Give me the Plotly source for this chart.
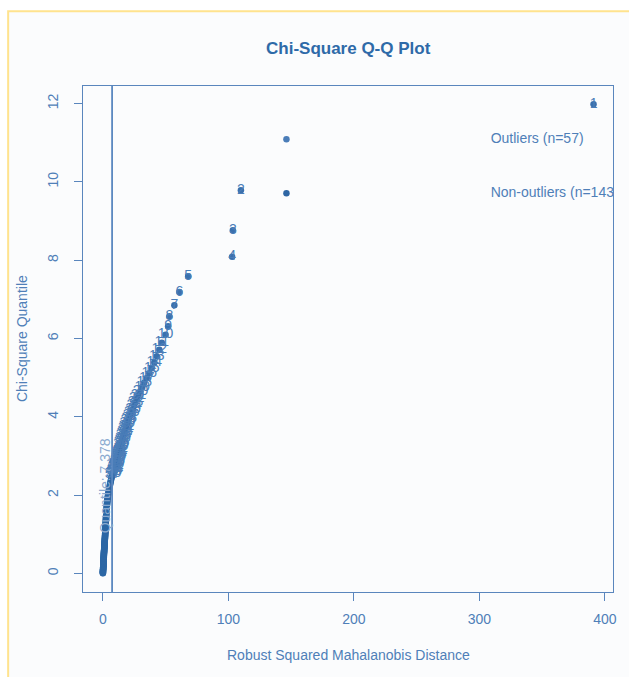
import plotly.graph_objects as go

# ---------------- data ----------------
# chi-square quantiles (df=2, n=200), sorted descending
chisq_quantile = [
    11.983, 9.786, 8.764, 8.091, 7.588, 7.187, 6.853, 6.567, 6.316, 6.094,
    5.894, 5.712, 5.545, 5.391, 5.248, 5.115, 4.990, 4.872, 4.761, 4.656,
    4.556, 4.460, 4.369, 4.283, 4.199, 4.119, 4.042, 3.968, 3.897, 3.828,
    3.761, 3.697, 3.634, 3.574, 3.515, 3.458, 3.402, 3.348, 3.295, 3.244,
    3.194, 3.145, 3.098, 3.051, 3.006, 2.961, 2.918, 2.875, 2.834, 2.793,
    2.753, 2.713, 2.675, 2.637, 2.600, 2.564, 2.528, 2.493, 2.459, 2.425,
    2.391, 2.359, 2.327, 2.295, 2.263, 2.232, 2.202, 2.172, 2.143, 2.114,
    2.086, 2.057, 2.030, 2.002, 1.975, 1.949, 1.922, 1.896, 1.871, 1.845,
    1.820, 1.796, 1.771, 1.747, 1.723, 1.700, 1.677, 1.654, 1.631, 1.608,
    1.586, 1.564, 1.542, 1.521, 1.499, 1.478, 1.458, 1.437, 1.417, 1.396,
    1.376, 1.357, 1.337, 1.318, 1.298, 1.279, 1.260, 1.242, 1.223, 1.205,
    1.187, 1.169, 1.151, 1.133, 1.115, 1.098, 1.081, 1.064, 1.047, 1.030,
    1.013, 0.997, 0.980, 0.964, 0.948, 0.932, 0.916, 0.900, 0.885, 0.869,
    0.854, 0.839, 0.823, 0.808, 0.793, 0.779, 0.764, 0.749, 0.735, 0.720,
    0.706, 0.692, 0.678, 0.664, 0.650, 0.636, 0.623, 0.609, 0.596, 0.582,
    0.569, 0.556, 0.543, 0.529, 0.516, 0.504, 0.491, 0.478, 0.465, 0.453,
    0.440, 0.428, 0.415, 0.403, 0.391, 0.379, 0.367, 0.355, 0.343, 0.331,
    0.319, 0.308, 0.296, 0.284, 0.273, 0.261, 0.250, 0.239, 0.227, 0.216,
    0.205, 0.194, 0.183, 0.172, 0.161, 0.150, 0.140, 0.129, 0.118, 0.108,
    0.097, 0.087, 0.077, 0.066, 0.056, 0.046, 0.035, 0.025, 0.015, 0.005,
]

# robust squared Mahalanobis distances of the 57 outliers (sorted descending)
outlier_dist = [
    391, 110, 103.6, 103, 68, 61, 57, 53, 52, 50,
    47, 45, 43, 41, 39, 37, 35, 33, 31.5, 30,
    28.5, 27, 26, 25, 24, 23, 22, 21, 20.2, 19.5,
    18.8, 18.2, 17.6, 17, 16.5, 16, 15.5, 15, 14.6, 14.2,
    13.8, 13.4, 13, 12.7, 12.4, 12.1, 11.8, 11.5, 11.2, 10.9,
    10.6, 10.3, 10, 9.6, 9.1, 8.5, 7.8,
]

# distances of the 143 non-outliers (sorted descending)
nonoutlier_dist = [
    7.2, 7.0, 6.8, 6.5, 6.3, 6.1, 5.9, 5.7, 5.5, 5.3, 5.1, 4.95, 4.8, 4.65, 4.5, 4.35, 4.2, 4.05,
    3.95, 3.85, 3.75, 3.65, 3.56, 3.48, 3.4, 3.33, 3.26, 3.2, 3.14, 3.08, 3.02, 2.97, 2.92, 2.87,
    2.82, 2.78, 2.74, 2.7, 2.66, 2.62, 2.58, 2.54, 2.5,
    2.47, 2.44, 2.41, 2.38, 2.35, 2.32, 2.29, 2.26, 2.23, 2.2, 2.17, 2.14, 2.11, 2.08, 2.05, 2.02,
    1.99, 1.96, 1.93, 1.9,
    1.87, 1.84, 1.81, 1.78, 1.75, 1.72, 1.69, 1.66, 1.63, 1.6, 1.57, 1.54, 1.51, 1.48, 1.45, 1.42,
    1.39, 1.36, 1.33, 1.3, 1.27, 1.24, 1.21, 1.18, 1.15, 1.12, 1.09, 1.06, 1.03, 1.0,
    0.98, 0.96, 0.94, 0.92, 0.9, 0.88, 0.86, 0.84, 0.82, 0.8, 0.78, 0.76, 0.74, 0.72, 0.7, 0.68,
    0.66, 0.64, 0.62, 0.6, 0.58, 0.56, 0.54, 0.52, 0.5, 0.48, 0.46, 0.44, 0.42, 0.4, 0.38, 0.36,
    0.34, 0.32, 0.3, 0.28, 0.26, 0.24, 0.22, 0.2, 0.18, 0.16, 0.14, 0.12, 0.1, 0.09, 0.08, 0.07,
    0.06, 0.05,
]

outlier_labels = [str(i + 1) for i in range(len(outlier_dist))]
cutoff = 7.378
legend_labels = ["Outliers (n=57)", "Non-outliers (n=143"]
legend_marker_x = [146.3, 146.3]
legend_text_x = [309, 309]
legend_y = [11.09, 9.71]

x_ticks = [0, 100, 200, 300, 400]
y_ticks = [0, 2, 4, 6, 8, 10, 12]

# ---------------- styling / layout ----------------
W, H = 629, 677
L, R, T, B = 83.3, 616.5, 85.7, 591.7
FONT = "Liberation Sans, Arial, sans-serif"
BLUE_TXT = "#4f7fb8"
BOX = "#5a86bd"


def pxx(p):
    return (p - L) / (R - L)


def pxy(p):
    return (B - p) / (B - T)


n_out = len(outlier_dist)
fig = go.Figure()

fig.add_trace(go.Scatter(
    x=nonoutlier_dist, y=chisq_quantile[n_out:], mode="markers",
    marker=dict(size=6.5, color="#2c67a5"),
    showlegend=False, hoverinfo="skip",
))
fig.add_trace(go.Scatter(
    x=outlier_dist, y=chisq_quantile[:n_out], mode="markers+text",
    text=outlier_labels, textposition="middle center",
    textfont=dict(family=FONT, size=14, color="#4a7db8"),
    marker=dict(size=6.5, color="#3a70ad"),
    showlegend=False, hoverinfo="skip",
))
# legend (as drawn in the reference, clipped at the plot edge)
fig.add_trace(go.Scatter(
    x=legend_marker_x, y=legend_y, mode="markers",
    marker=dict(size=6.5, color=["#4a7db8", "#2e66a4"]),
    showlegend=False, hoverinfo="skip",
))
fig.add_trace(go.Scatter(
    x=legend_text_x, y=legend_y, mode="text", text=legend_labels,
    textposition="middle right", cliponaxis=True,
    textfont=dict(family=FONT, size=14, color=BLUE_TXT),
    showlegend=False, hoverinfo="skip",
))

shapes = [
    # pale yellow page frame
    dict(type="rect", xref="paper", yref="paper",
         x0=pxx(8), x1=pxx(660), y0=pxy(720), y1=pxy(11),
         line=dict(color="#ffe38e", width=2), fillcolor="#fbfcfd", layer="below"),
    # cutoff line
    dict(type="line", xref="x", yref="paper", x0=cutoff, x1=cutoff, y0=0, y1=1,
         line=dict(color="#5b88c0", width=1.8)),
]

annotations = [
    dict(text="<b>Chi-Square Q-Q Plot</b>", xref="paper", yref="paper",
         x=0.5, y=pxy(48), xanchor="center", yanchor="middle", showarrow=False,
         font=dict(family=FONT, size=17, color="#2e6aa8")),
    dict(text="Robust Squared Mahalanobis Distance", xref="paper", yref="paper",
         x=0.5, y=pxy(655), xanchor="center", yanchor="middle", showarrow=False,
         font=dict(family=FONT, size=14, color=BLUE_TXT)),
    dict(text="Chi-Square Quantile", xref="paper", yref="paper",
         x=pxx(22), y=0.5, xanchor="center", yanchor="middle", showarrow=False,
         textangle=-90, font=dict(family=FONT, size=14, color=BLUE_TXT)),
    dict(text="Quantile: 7.378", xref="x", yref="y",
         x=1.7, y=2.25, xanchor="center", yanchor="middle", showarrow=False,
         textangle=-90, font=dict(family=FONT, size=14, color="#8aa9cf")),
]

fig.update_layout(
    width=W, height=H,
    margin=dict(l=L, r=W - R, t=T, b=H - B, pad=0),
    paper_bgcolor="white", plot_bgcolor="rgba(0,0,0,0)",
    showlegend=False, shapes=shapes, annotations=annotations,
    font=dict(family=FONT, size=14, color=BLUE_TXT),
)
fig.update_xaxes(
    range=[-15.8, 406.5], tickvals=x_ticks, ticktext=[str(v) for v in x_ticks],
    showgrid=False, zeroline=False, showline=True, mirror=True,
    linecolor=BOX, linewidth=1.3, ticks="outside", ticklen=8, tickcolor=BOX,
    tickwidth=1.2, ticklabelstandoff=6,
    tickfont=dict(family=FONT, size=14, color=BLUE_TXT),
)
fig.update_yaxes(
    range=[-0.472, 12.449], tickvals=y_ticks, ticktext=[str(v) for v in y_ticks],
    showgrid=False, zeroline=False, showline=True, mirror=True,
    linecolor=BOX, linewidth=1.3, ticks="outside", ticklen=8, tickcolor=BOX,
    tickwidth=1.2, tickangle=-90, ticklabelstandoff=10,
    tickfont=dict(family=FONT, size=14, color=BLUE_TXT),
)

fig.write_html(
    "out.html",
    config={"displayModeBar": False},
    post_script="document.body.style.margin='0';document.body.style.overflow='hidden';",
)
